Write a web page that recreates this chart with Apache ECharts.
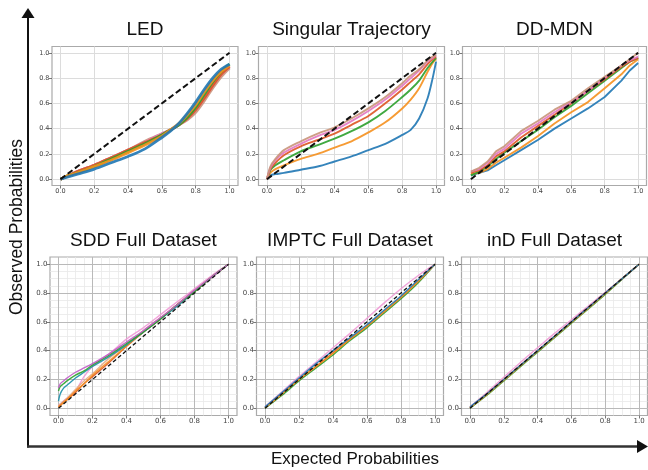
<!DOCTYPE html>
<html><head><meta charset="utf-8">
<script src="https://cdn.jsdelivr.net/npm/echarts@6/dist/echarts.min.js"></script>
<style>html,body{margin:0;padding:0;background:#fff}#c{width:648px;height:470px}</style>
</head><body><div id="c"></div>
<script>
// ---------- DATA ----------
const majorTicks = [0, 0.2, 0.4, 0.6, 0.8, 1.0];
const minorTicks = [0,0.05,0.1,0.15,0.2,0.25,0.3,0.35,0.4,0.45,0.5,0.55,0.6,0.65,0.7,0.75,0.8,0.85,0.9,0.95,1.0];
const panelTitles = ['LED', 'Singular Trajectory', 'DD-MDN', 'SDD Full Dataset', 'IMPTC Full Dataset', 'inD Full Dataset'];
const xAxisTitle = 'Expected Probabilities';
const yAxisTitle = 'Observed Probabilities';
const diagX = [0, 1];
const diagY = [0, 1];

const ledX      = [0,0.05,0.1,0.2,0.3,0.4,0.5,0.6,0.65,0.7,0.75,0.8,0.85,0.9,0.95,1.0];
const ledBlue   = [0,0.02,0.04,0.08,0.13,0.18,0.24,0.33,0.38,0.44,0.52,0.61,0.71,0.80,0.87,0.91];
const ledOrange = [0,0.03,0.05,0.10,0.15,0.21,0.27,0.34,0.39,0.44,0.51,0.59,0.69,0.78,0.85,0.90];
const ledGreen  = [0,0.03,0.05,0.10,0.16,0.22,0.28,0.35,0.39,0.43,0.49,0.57,0.67,0.77,0.85,0.91];
const ledRed    = [0,0.03,0.06,0.11,0.17,0.23,0.29,0.35,0.39,0.43,0.48,0.55,0.64,0.74,0.83,0.89];
const ledPink   = [0,0.03,0.06,0.11,0.17,0.23,0.29,0.36,0.39,0.43,0.48,0.55,0.64,0.74,0.83,0.89];
const ledBrown  = [0,0.03,0.06,0.11,0.17,0.23,0.30,0.36,0.39,0.43,0.47,0.53,0.62,0.72,0.81,0.88];

const singX      = [0,0.02,0.05,0.1,0.2,0.3,0.4,0.5,0.6,0.7,0.8,0.85,0.9,0.95,0.98,1.0];
const singBlue   = [0,0.03,0.04,0.05,0.075,0.10,0.14,0.18,0.23,0.28,0.35,0.39,0.48,0.64,0.80,0.93];
const singOrange = [0,0.05,0.08,0.11,0.16,0.20,0.25,0.30,0.37,0.45,0.56,0.63,0.72,0.85,0.92,0.95];
const singGreen  = [0,0.07,0.11,0.15,0.22,0.27,0.32,0.38,0.45,0.54,0.65,0.71,0.78,0.88,0.93,0.96];
const singRed    = [0,0.08,0.13,0.19,0.26,0.31,0.36,0.43,0.50,0.60,0.71,0.77,0.83,0.91,0.95,0.97];
const singPink   = [0,0.09,0.15,0.21,0.28,0.34,0.39,0.46,0.54,0.63,0.74,0.80,0.86,0.93,0.96,0.98];
const singBrown  = [0,0.10,0.16,0.23,0.30,0.36,0.41,0.48,0.56,0.65,0.76,0.82,0.87,0.94,0.97,0.98];

const ddX      = [0,0.05,0.1,0.15,0.2,0.3,0.4,0.5,0.6,0.7,0.8,0.9,0.95,1.0];
const ddBlue   = [0.03,0.05,0.07,0.11,0.15,0.23,0.31,0.40,0.48,0.56,0.65,0.78,0.86,0.92];
const ddOrange = [0.04,0.05,0.08,0.13,0.17,0.25,0.34,0.44,0.53,0.61,0.72,0.83,0.90,0.95];
const ddGreen  = [0.03,0.06,0.10,0.16,0.21,0.30,0.39,0.49,0.58,0.68,0.78,0.88,0.93,0.96];
const ddRed    = [0.05,0.07,0.11,0.18,0.22,0.33,0.42,0.51,0.60,0.70,0.79,0.89,0.93,0.96];
const ddPink   = [0.06,0.08,0.13,0.20,0.24,0.36,0.44,0.53,0.61,0.70,0.80,0.90,0.94,0.97];
const ddBrown  = [0.06,0.09,0.14,0.22,0.26,0.38,0.46,0.55,0.62,0.72,0.81,0.90,0.95,1.00];

const sddX      = [0,0.01,0.03,0.05,0.1,0.15,0.2,0.3,0.4,0.5,0.6,0.7,0.8,0.9,1.0];
const sddPurple = [0.14,0.17,0.19,0.21,0.25,0.28,0.31,0.38,0.46,0.54,0.63,0.72,0.82,0.91,1.0];
const sddGreen  = [0.12,0.15,0.17,0.19,0.23,0.26,0.30,0.37,0.45,0.53,0.62,0.72,0.81,0.91,1.0];
const sddBlue   = [0.05,0.10,0.14,0.16,0.21,0.25,0.29,0.36,0.44,0.53,0.62,0.71,0.81,0.91,1.0];
const sddOrange = [0.01,0.02,0.04,0.06,0.12,0.17,0.23,0.33,0.43,0.53,0.62,0.72,0.81,0.91,1.0];
const sddRed    = [0.01,0.02,0.04,0.06,0.11,0.17,0.22,0.32,0.43,0.53,0.62,0.72,0.81,0.91,1.0];
const sddTan    = [0.02,0.03,0.05,0.07,0.13,0.19,0.24,0.35,0.44,0.54,0.63,0.72,0.82,0.91,1.0];
const sddPink   = [0.02,0.03,0.05,0.07,0.12,0.22,0.29,0.38,0.48,0.56,0.65,0.74,0.83,0.92,1.0];

const imX      = [0,0.1,0.2,0.3,0.4,0.5,0.6,0.7,0.8,0.9,1.0];
const imPink   = [0.01,0.115,0.22,0.32,0.42,0.52,0.625,0.73,0.83,0.92,1.0];
const imGreen  = [0,0.09,0.19,0.28,0.37,0.47,0.56,0.66,0.76,0.87,1.0];
const imRed    = [0.005,0.10,0.20,0.29,0.385,0.48,0.57,0.67,0.77,0.88,1.0];
const imOrange = [0.005,0.10,0.20,0.29,0.38,0.48,0.57,0.67,0.77,0.88,1.0];
const imBlue   = [0.01,0.11,0.21,0.31,0.40,0.49,0.58,0.68,0.78,0.89,1.0];

const indX      = [0,0.1,0.2,0.3,0.4,0.5,0.6,0.7,0.8,0.9,1.0];
const indPink   = [0.01,0.11,0.215,0.32,0.42,0.52,0.615,0.71,0.805,0.9,1.0];
const indGreen  = [0,0.09,0.19,0.29,0.39,0.49,0.59,0.69,0.79,0.895,1.0];
const indRed    = [0.005,0.10,0.20,0.30,0.40,0.50,0.60,0.70,0.80,0.9,1.0];
const indOrange = [0.005,0.095,0.195,0.295,0.395,0.495,0.595,0.695,0.795,0.9,1.0];
const indBlue   = [0.01,0.10,0.20,0.30,0.40,0.50,0.60,0.70,0.80,0.90,1.0];

// ---------- STYLE / LAYOUT ----------
const C = {blue:'#1f77b4', orange:'#f5901e', green:'#2ca02c', red:'#dd5522', pink:'#e377c2', brown:'#c9937a', purple:'#c05cc8', tan:'#e8a882', lpink:'#f09ad6'};
const panels = [
  {grid:{left:52, top:46.5, width:186, height:139}, row:0, xs:ledX, lw:2.8, smooth:0.3,
   ys:[ledBrown, ledPink, ledRed, ledGreen, ledOrange, ledBlue], colors:[C.brown,C.pink,C.red,C.green,C.orange,C.blue]},
  {grid:{left:258.5, top:46.5, width:186, height:139}, row:0, xs:singX, lw:1.9, smooth:0.3,
   ys:[singBlue, singOrange, singGreen, singRed, singPink, singBrown], colors:[C.blue,C.orange,C.green,C.red,C.pink,C.brown]},
  {grid:{left:462.5, top:46.5, width:184, height:139}, row:0, xs:ddX, lw:1.9, smooth:false,
   ys:[ddBlue, ddOrange, ddGreen, ddRed, ddPink, ddBrown], colors:[C.blue,C.orange,C.green,C.red,C.pink,C.brown]},
  {grid:{left:50, top:257, width:187, height:158.5}, row:1, xs:sddX, lw:1.4, smooth:0.3,
   ys:[sddPink, sddTan, sddRed, sddOrange, sddBlue, sddGreen, sddPurple], colors:[C.lpink,C.tan,C.red,C.orange,'#1b8fa8',C.green,C.purple]},
  {grid:{left:256.5, top:257, width:187, height:158.5}, row:1, xs:imX, lw:1.4, smooth:0.3,
   ys:[imPink, imGreen, imRed, imOrange, imBlue], colors:[C.lpink,C.green,C.red,C.orange,C.blue]},
  {grid:{left:461.5, top:257, width:186, height:158.5}, row:1, xs:indX, lw:1.4, smooth:0.3,
   ys:[indPink, indGreen, indRed, indOrange, indBlue], colors:[C.lpink,C.green,C.red,C.orange,C.blue]}
];

function pairs(xs, ys) { return xs.map((x, i) => [x, ys[i]]); }

const grids = [], xAxes = [], yAxes = [], series = [], graphics = [];

function majorAxis(gi, isX, row) {
  return {
    type:'value', gridIndex:gi, min:-0.05, max:1.05, position: isX ? 'bottom' : 'left', z:1,
    axisLine:{show:false, onZero:false},
    axisTick:{show:true, length:3, customValues:majorTicks, lineStyle:{color:'#555', width:0.8}},
    axisLabel:{show:true, customValues:majorTicks, formatter:v => v.toFixed(1),
      fontSize: row ? 7 : 6.5, color:'#444', margin: 2.5, fontFamily:'DejaVu Sans'},
    splitLine:{show:true, lineStyle:{color: row ? '#b9b9b9' : '#dcdcdc', width:1}}
  };
}
function minorAxis(gi, isX) {
  return {
    type:'value', gridIndex:gi, min:-0.05, max:1.05, position: isX ? 'top' : 'right', z:0,
    axisLine:{show:false, onZero:false},
    axisTick:{show:false, customValues:minorTicks},
    axisLabel:{show:false, customValues:minorTicks},
    splitLine:{show:true, lineStyle:{color:'#e8e8e8', width:0.8}}
  };
}

panels.forEach((p, gi) => {
  grids.push(Object.assign({show:true, borderColor:'#aaaaaa', borderWidth:1.2, backgroundColor:'transparent', containLabel:false}, p.grid));
  xAxes.push(majorAxis(gi, true, p.row));
  yAxes.push(majorAxis(gi, false, p.row));
  p.ys.forEach((ys, k) => {
    series.push({type:'line', xAxisIndex:gi, yAxisIndex:gi, data:pairs(p.xs, ys), showSymbol:false, symbol:'none',
      smooth:p.smooth, clip:false, lineStyle:{color:p.colors[k], width:p.lw, opacity:0.9}, z:2});
  });
  series.push({type:'line', xAxisIndex:gi, yAxisIndex:gi, data:pairs(diagX, diagY), showSymbol:false, symbol:'none',
    clip:false, lineStyle:{color:'#111', width: p.row ? 1.3 : 2, type: p.row ? [4,2.5] : [6,3]}, z:3});
  graphics.push({type:'text', x: p.grid.left + p.grid.width/2, y: p.row ? 241 : 30,
    style:{text: panelTitles[gi], fontSize:19, fontFamily:'Liberation Sans', fill:'#111', align:'center', verticalAlign:'middle'}});
});
// minor grid for bottom row
panels.forEach((p, gi) => {
  if (p.row === 1) { xAxes.push(minorAxis(gi, true)); yAxes.push(minorAxis(gi, false)); }
});

// big axis arrows and labels
graphics.push(
  {type:'line', shape:{x1:28, y1:16, x2:28, y2:447.5}, style:{stroke:'#111', lineWidth:2}},
  {type:'polygon', shape:{points:[[21.5,18],[28,8],[34.5,18]]}, style:{fill:'#111'}},
  {type:'line', shape:{x1:27, y1:446.5, x2:640, y2:446.5}, style:{stroke:'#333', lineWidth:2.3}},
  {type:'polygon', shape:{points:[[637,440],[648,446.5],[637,453]]}, style:{fill:'#111'}},
  {type:'text', x:17, y:227, rotation:Math.PI/2,
    style:{text:yAxisTitle, fontSize:17.5, fontFamily:'Liberation Sans', fill:'#111', align:'center', verticalAlign:'middle'}},
  {type:'text', x:355, y:459,
    style:{text:xAxisTitle, fontSize:17, fontFamily:'Liberation Sans', fill:'#111', align:'center', verticalAlign:'middle'}}
);

const chart = echarts.init(document.getElementById('c'), null, {renderer:'canvas'});
chart.setOption({
  animation:false,
  backgroundColor:'#fff',
  grid:grids, xAxis:xAxes, yAxis:yAxes, series:series,
  graphic:{elements:graphics}
});
</script></body></html>
